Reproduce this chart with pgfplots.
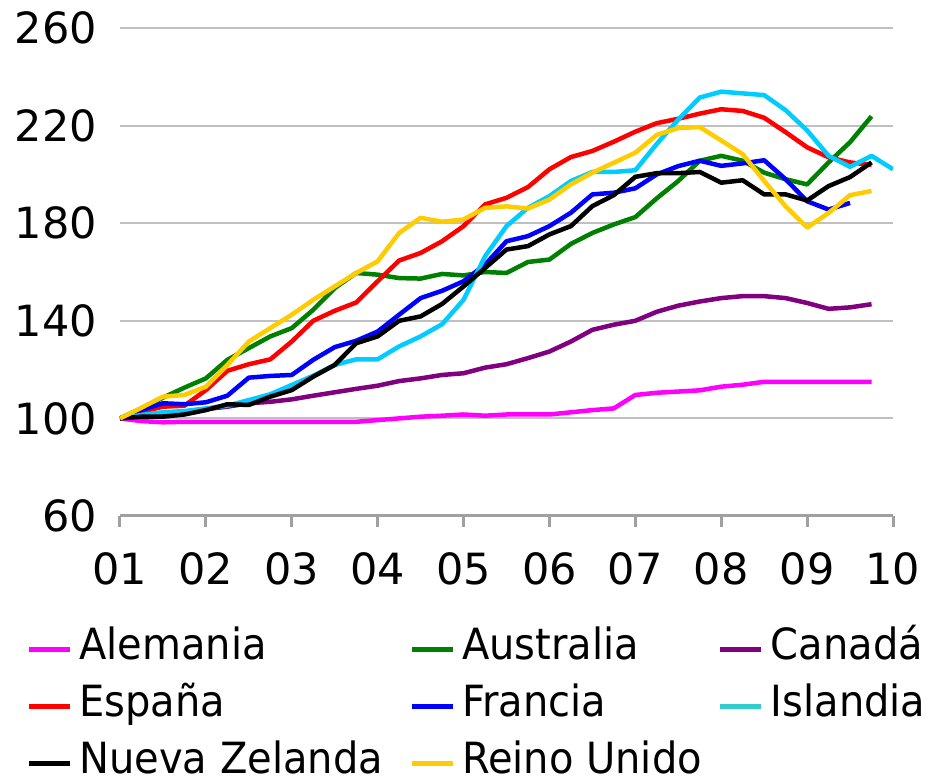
\documentclass[border=0pt]{standalone}
\usepackage{pgfplots}
\pgfplotsset{compat=1.18}
\usepackage{pgfplotstable}
\usepackage{fontspec}
\setmainfont{DejaVu Sans}[FakeStretch=0.93]
\newfontfamily\tickfont{DejaVu Sans}
\definecolor{cAle}{HTML}{FF00FF}
\definecolor{cAus}{HTML}{008000}
\definecolor{cCan}{HTML}{800080}
\definecolor{cEsp}{HTML}{FF0000}
\definecolor{cFra}{HTML}{0000FF}
\definecolor{cIsl}{HTML}{00CCFF}
\definecolor{cIslL}{HTML}{33CCCC}
\definecolor{cNZ}{HTML}{000000}
\definecolor{cRU}{HTML}{FFCC00}
\definecolor{gridc}{HTML}{C0C0C0}
\definecolor{axisc}{HTML}{A0A0A0}
\pgfplotstableread{
x Ale Aus Can Esp Fra Isl NZ RU
1.00 100 100 100 100 100 100 100 100
1.25 98.9 104.1 101.4 102.7 103.4 101.4 100.7 104.4
1.50 98.4 108.5 102.1 104.8 106.2 102.5 100.7 108.9
1.75 98.6 112.6 102.7 105.2 105.8 103.0 101.6 109.6
2.00 98.6 116.4 103.8 111.6 106.6 104.1 103.4 113.0
2.25 98.6 124.0 104.8 119.5 109.3 105.2 105.8 121.9
2.50 98.6 128.8 106.2 122.2 116.7 107.5 105.5 131.5
2.75 98.6 133.6 106.8 124.2 117.4 109.9 108.9 137.0
3.00 98.6 137.0 107.8 131.5 117.8 113.7 111.6 142.5
3.25 98.6 144.5 109.3 140.0 124.0 117.5 117.1 148.6
3.50 98.6 153.4 110.7 144.1 129.2 121.9 121.9 154.1
3.75 98.6 159.6 112.1 147.5 131.8 124.2 130.8 159.6
4.00 99.3 158.9 113.4 156.2 135.6 124.2 133.6 164.4
4.25 100.0 157.5 115.3 164.7 142.5 129.5 140.0 176.0
4.50 100.7 157.3 116.4 167.8 149.3 133.6 141.8 182.2
4.75 101.1 159.2 117.8 172.6 152.3 138.6 146.9 180.6
5.00 101.6 158.6 118.5 178.8 156.2 148.6 154.1 181.5
5.25 101.1 160.0 120.8 187.7 163.0 166.4 161.6 186.3
5.50 101.6 159.6 122.2 190.4 172.6 178.8 169.2 186.9
5.75 101.6 164.1 124.7 194.8 174.7 186.3 170.6 186.0
6.00 101.6 165.1 127.4 202.1 178.8 191.1 175.4 189.7
6.25 102.5 171.5 131.5 207.1 184.3 197.3 178.8 195.9
6.50 103.4 176.0 136.3 209.6 191.8 201.0 187.0 200.7
6.75 104.1 179.5 138.4 213.4 192.5 201.0 191.5 204.8
7.00 109.6 182.5 140.0 217.5 194.3 201.7 199.0 208.9
7.25 110.5 190.2 143.7 221.0 200.0 212.5 200.5 216.2
7.50 111.0 197.3 146.2 222.8 203.4 222.5 200.5 219.0
7.75 111.5 205.6 147.9 224.9 205.6 231.5 201.0 219.4
8.00 113.0 207.6 149.3 226.7 203.5 233.9 196.6 213.9
8.25 113.8 205.6 150.1 226.0 204.5 233.2 197.6 208.3
8.50 115.0 200.7 150.1 223.2 205.8 232.5 191.8 197.3
8.75 115.0 198.0 149.3 217.3 198.0 226.3 191.8 186.9
9.00 115.0 195.9 147.3 211.1 189.0 218.0 189.3 178.2
9.25 115.0 204.9 144.9 207.0 185.6 207.6 195.2 184.2
9.50 115.0 213.2 145.5 204.9 188.3 203.1 198.9 191.5
9.75 115.0 223.8 146.8 203.9 nan 207.6 204.9 193.2
10.00 nan nan nan nan nan 202.1 nan nan
}\data
\begin{document}
\fontsize{43}{50}\selectfont
\begin{tikzpicture}
\useasboundingbox (0,0) rectangle (943pt,783pt);
\begin{axis}[
  at={(120pt,267pt)}, anchor=south west,
  scale only axis, width=773pt, height=488pt,
  xmin=1, xmax=10, ymin=60, ymax=260,
  axis x line*=bottom, axis y line*=left,
  y axis line style={draw=none},
  x axis line style={-, color=axisc, line width=3pt},
  xtick={1,...,10},
  xticklabels={01,02,03,04,05,06,07,08,09,10},
  ytick={60,100,140,180,220,260},
  yticklabels={60,100,140,180,220,260},
  xtick align=outside, major tick length=11pt,
  xtick style={color=axisc, line width=3pt},
  ytick style={draw=none},
  ytick align=inside,
  ymajorgrids, grid style={color=gridc, line width=2pt},
  ticklabel style={font=\tickfont\fontsize{43}{50}\selectfont},
  xticklabel style={inner sep=0pt, yshift=-25pt},
  yticklabel style={inner sep=0pt, xshift=-23pt},
  every axis plot/.append style={line width=4.5pt, line join=round, forget plot},
  legend columns=3,
  legend cell align=left,
  legend image code/.code={\draw[#1, line width=5pt] (0pt,-1pt) -- (41pt,-1pt);},
  legend style={at={(-0.121,-0.229)}, anchor=north west, draw=none, fill=none,
    inner sep=0pt, outer sep=0pt, row sep=16pt,
    nodes={inner sep=0pt, text height=32pt, text depth=9pt},
    /tikz/column 1/.style={column sep=7pt},
    /tikz/column 2/.style={column sep=26pt},
    /tikz/column 3/.style={column sep=7pt},
    /tikz/column 4/.style={column sep=16pt},
    /tikz/column 5/.style={column sep=7pt}},
]
\addplot[cAle] table[x=x,y=Ale]{\data};
\addplot[cAus] table[x=x,y=Aus]{\data};
\addplot[cCan] table[x=x,y=Can]{\data};
\addplot[cEsp] table[x=x,y=Esp]{\data};
\addplot[cFra] table[x=x,y=Fra]{\data};
\addplot[cIsl] table[x=x,y=Isl]{\data};
\addplot[cNZ] table[x=x,y=NZ]{\data};
\addplot[cRU] table[x=x,y=RU]{\data};
\addlegendimage{cAle}\addlegendentry{Alemania}
\addlegendimage{cAus}\addlegendentry{Australia}
\addlegendimage{cCan}\addlegendentry{Canadá}
\addlegendimage{cEsp}\addlegendentry{España}
\addlegendimage{cFra}\addlegendentry{Francia}
\addlegendimage{cIslL}\addlegendentry{Islandia}
\addlegendimage{cNZ}\addlegendentry{Nueva Zelanda}
\addlegendimage{cRU}\addlegendentry{Reino Unido}
\end{axis}
\end{tikzpicture}
\end{document}
